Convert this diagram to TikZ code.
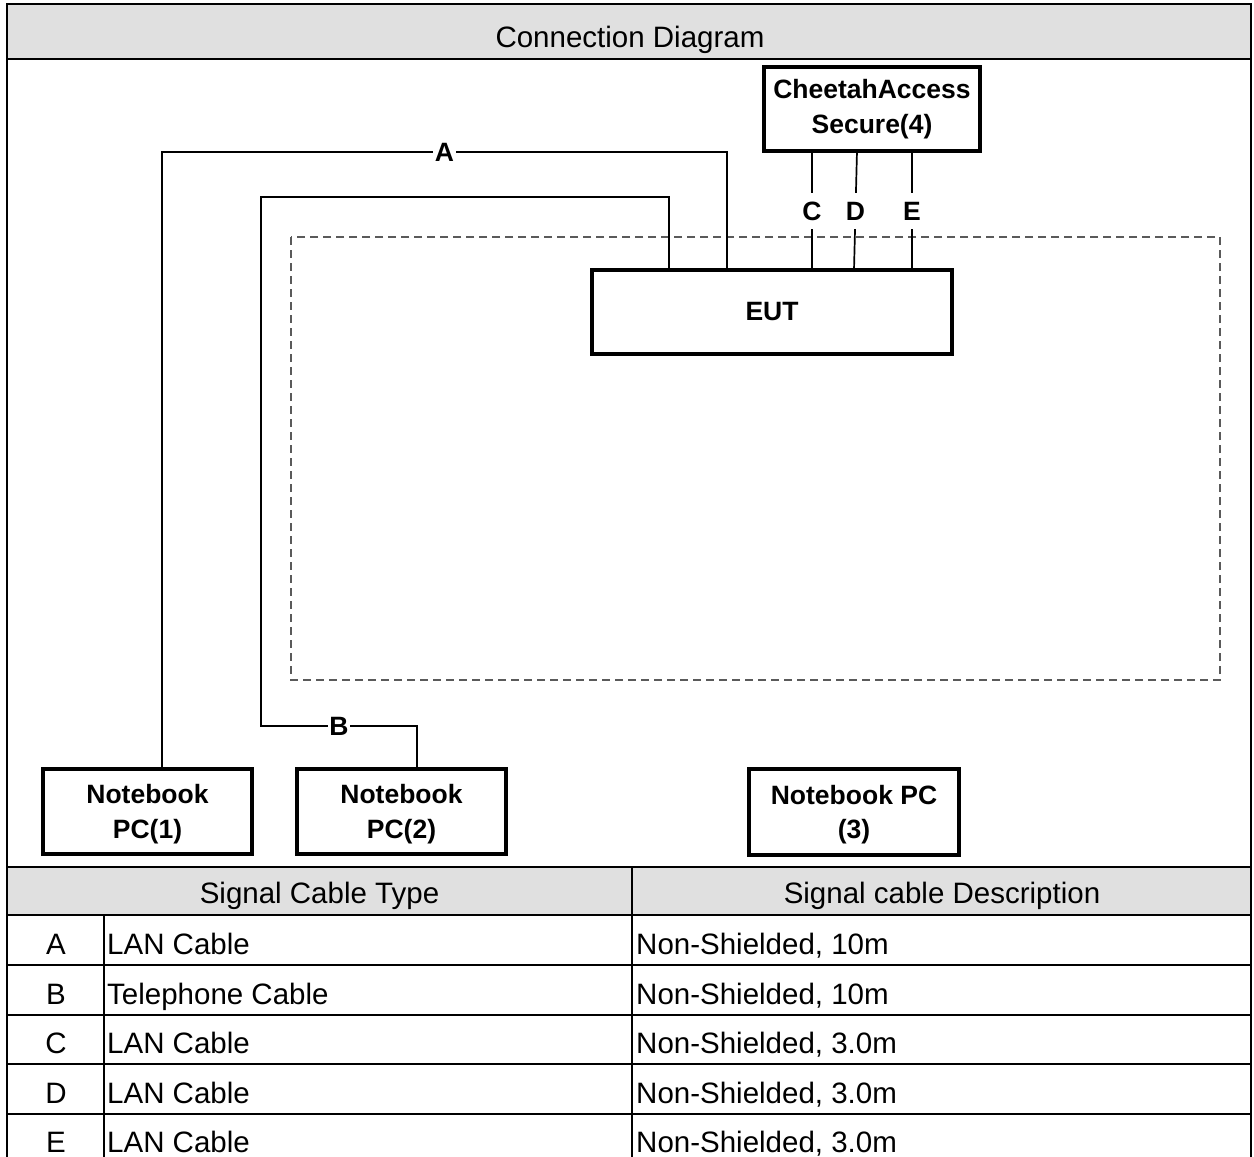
\documentclass[tikz,border=0pt]{standalone}
\usepackage{fontspec}
\setmainfont{Liberation Sans}
\definecolor{hdrgray}{HTML}{E0E0E0}
\definecolor{dashgray}{HTML}{5A5A5A}
\begin{document}
\begin{tikzpicture}[x=1pt,y=-1pt,
  frame/.style={line width=2.8pt},
  devbox/.style={draw,line width=3.6pt,align=center,inner sep=0pt,
    font=\bfseries\fontsize{26.5}{34.5}\selectfont},
  cable/.style={line width=1.7pt},
  hlab/.style={fill=white,inner xsep=1.5pt,inner ysep=1pt,
    font=\bfseries\fontsize{26.5}{30}\selectfont},
  vlab/.style={fill=white,inner xsep=2pt,inner ysep=8.5pt,
    font=\bfseries\fontsize{26.5}{30}\selectfont},
  txt/.style={inner sep=0pt,font=\fontsize{29.5}{34}\selectfont},
  enclosure/.style={draw=dashgray,line width=1.1pt,dash pattern=on 8pt off 5pt}
]
\useasboundingbox (0,0) rectangle (1254,1157);

% header band
\fill[hdrgray] (7,4) rectangle (1251,59);
\node[txt,anchor=base] (title) at (630,47) {Connection Diagram};

% enclosure (dashed)
\draw[enclosure] (291,237) rectangle (1220,680);

% devices
\node[devbox,minimum width=216pt,minimum height=84pt] (CAS) at (872,109) {CheetahAccess\\Secure(4)};
\node[devbox,minimum width=360pt,minimum height=84pt] (EUT) at (772,312) {EUT};
\node[devbox,minimum width=209pt,minimum height=85pt] (PC1) at (147.5,811.5) {\strut Notebook\\PC(1)};
\node[devbox,minimum width=209pt,minimum height=85pt] (PC2) at (401.5,811.5) {\strut Notebook\\PC(2)};
\node[devbox,minimum width=210pt,minimum height=86pt] (PC3) at (854,812) {\strut Notebook PC\\(3)};

% cable A
\coordinate (a1) at (727,152);
\coordinate (a2) at (162,152);
\draw[cable] (a1 |- EUT.north) -- (a1) -- node[hlab] (labA) {A} (a2) -- (a2 |- PC1.north);

% cable B
\coordinate (b1) at (669,197);
\coordinate (b2) at (261,197);
\coordinate (b3) at (261,726);
\coordinate (b4) at (417,726);
\draw[cable] (b1 |- EUT.north) -- (b1) -- (b2) -- (b3) -- node[hlab] (labB) {B} (b4) -- (b4 |- PC2.north);

% cables C, D, E
\coordinate (c1) at (812,151);
\coordinate (d1) at (857,151);
\coordinate (d2) at (854,270);
\coordinate (e1) at (912,151);
\draw[cable] (c1 |- CAS.south) -- node[vlab,pos=0.505] (labC) {C} (c1 |- EUT.north);
\draw[cable] (d1) -- node[vlab,pos=0.505] (labD) {D} (d2);
\draw[cable] (e1 |- CAS.south) -- node[vlab,pos=0.505] (labE) {E} (e1 |- EUT.north);

% table
\fill[hdrgray] (7,867) rectangle (1251,915);
\node[txt,anchor=base] (h1) at (319.5,903) {Signal Cable Type};
\node[txt,anchor=base] (h2) at (942,903) {Signal cable Description};
\foreach \yy in {867,915,965,1015,1064,1114} \draw[frame] (7,\yy) -- (1251,\yy);
\draw[line width=2pt] (632,867) -- (632,1157);
\draw[line width=1.4pt] (104,915) -- (104,1157);

\node[txt,anchor=base] (rA) at (56,954) {A};
\node[txt,anchor=base west] (tA) at (107,954) {LAN Cable};
\node[txt,anchor=base west] (dA) at (636,954) {Non-Shielded, 10m};
\node[txt,anchor=base] (rB) at (56,1004) {B};
\node[txt,anchor=base west] (tB) at (107,1004) {Telephone Cable};
\node[txt,anchor=base west] (dB) at (636,1004) {Non-Shielded, 10m};
\node[txt,anchor=base] (rC) at (56,1053) {C};
\node[txt,anchor=base west] (tC) at (107,1053) {LAN Cable};
\node[txt,anchor=base west] (dC) at (636,1053) {Non-Shielded, 3.0m};
\node[txt,anchor=base] (rD) at (56,1103) {D};
\node[txt,anchor=base west] (tD) at (107,1103) {LAN Cable};
\node[txt,anchor=base west] (dD) at (636,1103) {Non-Shielded, 3.0m};
\node[txt,anchor=base] (rE) at (56,1152) {E};
\node[txt,anchor=base west] (tE) at (107,1152) {LAN Cable};
\node[txt,anchor=base west] (dE) at (636,1152) {Non-Shielded, 3.0m};

% outer frame
\draw[frame] (7,1157) -- (7,4) -- (1251,4) -- (1251,1157);
\draw[frame] (7,59) -- (1251,59);
\end{tikzpicture}
\end{document}
